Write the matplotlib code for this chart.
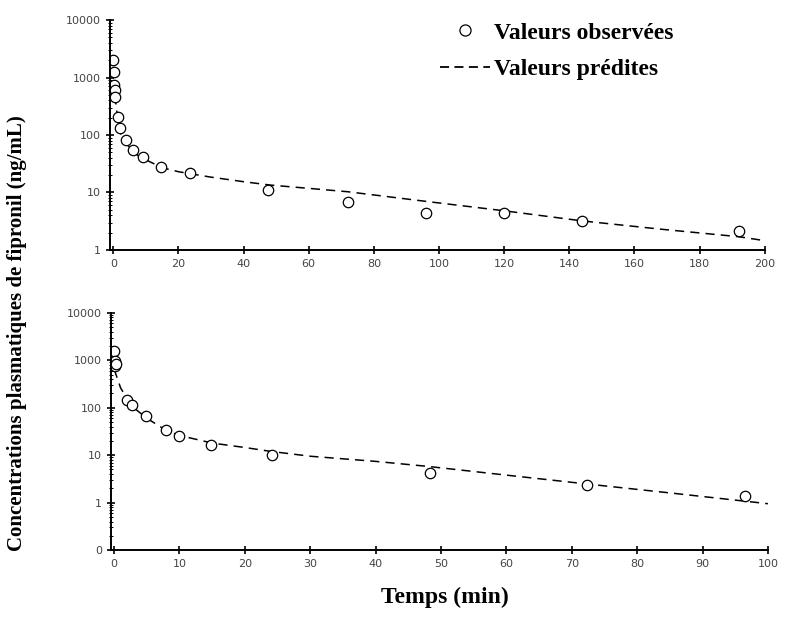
import matplotlib.pyplot as plt
from matplotlib.lines import Line2D
from matplotlib.ticker import FixedLocator, FixedFormatter, LogLocator, NullFormatter

# upper panel: observed points
t_obs_a = [0.05, 0.1, 0.2, 0.5, 0.6, 1.5, 2, 4, 6, 9, 14.5, 23.5, 47.5, 72, 96, 120, 144, 192]
c_obs_a = [2000, 1250, 740, 600, 460, 205, 132, 82, 55, 42, 28, 22, 11, 6.9, 4.4, 4.4, 3.2, 2.1]
# upper panel: predicted curve
t_pred_a = [0, 0.25, 0.5, 1, 1.5, 2, 3, 4, 6, 8, 10, 15, 20, 24, 30, 40, 48, 60, 72, 96, 120, 144, 168, 192, 200]
c_pred_a = [900, 700, 500, 280, 170, 115, 85, 72, 52, 42, 37, 27, 23, 21, 18.5, 15.4, 13.5, 11.8, 10.3, 7.0, 4.8, 3.2, 2.3, 1.7, 1.45]

# lower panel: observed points
t_obs_b = [0.05, 0.1, 0.2, 0.3, 1.9, 2.8, 4.9, 8, 10, 14.8, 24.2, 48.3, 72.4, 96.5]
c_obs_b = [1540, 940, 740, 850, 148, 116, 66, 34, 25, 16.6, 10.2, 4.2, 2.4, 1.36]
# lower panel: predicted curve
t_pred_b = [0, 1, 2, 3, 5, 8, 10, 15, 20, 24, 30, 40, 48, 60, 72, 86, 100]
c_pred_b = [650, 260, 155, 100, 60, 33, 26, 18, 14.5, 12, 9.5, 7.4, 5.8, 3.8, 2.5, 1.55, 0.95]

xticks_a = [0, 20, 40, 60, 80, 100, 120, 140, 160, 180, 200]
xticks_b = [0, 10, 20, 30, 40, 50, 60, 70, 80, 90, 100]
yticks_a = [1, 10, 100, 1000, 10000]
ylabels_a = ["1", "10", "100", "1000", "10000"]
yticks_b = [0.1, 1, 10, 100, 1000, 10000]
ylabels_b = ["0", "1", "10", "100", "1000", "10000"]

serif = ["Liberation Serif", "DejaVu Serif"]

fig = plt.figure(figsize=(7.86, 6.28), dpi=100)
ax1 = fig.add_axes([0.140, 0.602, 0.833, 0.366])
ax2 = fig.add_axes([0.141, 0.124, 0.836, 0.378])


def style(ax, xt, yt, yl, xlim, ylim):
    ax.set_yscale("log")
    ax.set_xlim(xlim)
    ax.set_ylim(ylim)
    ax.spines["top"].set_visible(False)
    ax.spines["right"].set_visible(False)
    ax.spines["left"].set_linewidth(1.4)
    ax.spines["bottom"].set_linewidth(1.4)
    ax.xaxis.set_major_locator(FixedLocator(xt))
    ax.yaxis.set_major_locator(FixedLocator(yt))
    ax.yaxis.set_major_formatter(FixedFormatter(yl))
    ax.yaxis.set_minor_locator(LogLocator(base=10, subs=range(2, 10)))
    ax.yaxis.set_minor_formatter(NullFormatter())
    ax.tick_params(which="major", direction="inout", length=6, width=1.2,
                   labelsize=8, labelcolor="#444444")
    ax.tick_params(which="minor", direction="inout", length=3, width=0.7)


for ax, tp, cp, to, co in [(ax1, t_pred_a, c_pred_a, t_obs_a, c_obs_a),
                           (ax2, t_pred_b, c_pred_b, t_obs_b, c_obs_b)]:
    ax.plot(tp, cp, color="black", lw=1.1, dashes=(6, 4))
    ax.plot(to, co, "o", mfc="white", mec="black", mew=0.9, ms=7.5, ls="none")

style(ax1, xticks_a, yticks_a, ylabels_a, (-1, 200), (1, 10000))
style(ax2, xticks_b, yticks_b, ylabels_b, (-0.5, 100), (0.1, 10000))

handles = [Line2D([], [], marker="o", ls="none", mfc="white", mec="black", mew=0.9, ms=8),
           Line2D([], [], color="black", lw=1.3, dashes=(5, 3))]
fig.legend(handles, ["Valeurs observées", "Valeurs prédites"],
           loc="upper left", bbox_to_anchor=(0.560, 0.965), frameon=False,
           prop={"family": serif, "weight": "bold", "size": 17},
           borderpad=0, borderaxespad=0,
           handlelength=2.1, handletextpad=0.2, labelspacing=0.65)

fig.text(0.022, 0.47, "Concentrations plasmatiques de fipronil (ng/mL)",
         rotation=90, ha="center", va="center",
         family=serif, weight="bold", fontsize=15)
fig.text(0.566, 0.049, "Temps (min)", ha="center", va="center",
         family=serif, weight="bold", fontsize=17)

fig.savefig("out.png", dpi=100)
